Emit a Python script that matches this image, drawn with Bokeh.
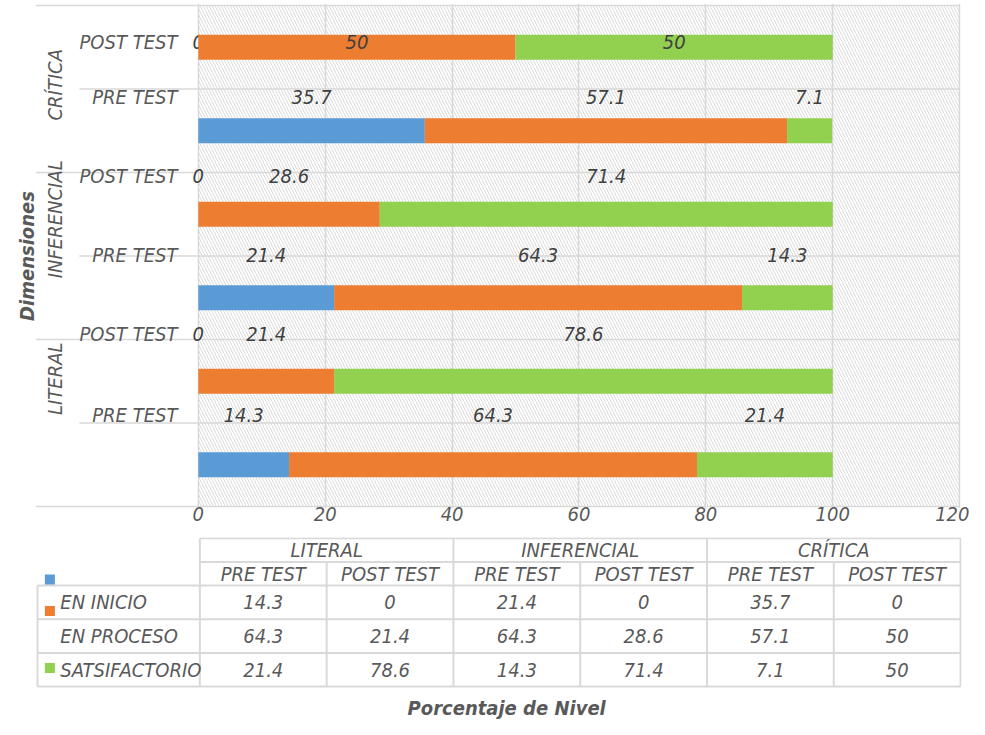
import math
from bokeh.plotting import figure
from bokeh.models import Range1d, FixedTicker, ColumnDataSource
from bokeh.layouts import column
from bokeh.embed import file_html
from bokeh.resources import INLINE
from bokeh.core.properties import value

# ---------------- data ----------------
dimensions = ["LITERAL", "INFERENCIAL", "CRÍTICA"]
tests = ["PRE TEST", "POST TEST"]
series_names = ["EN INICIO", "EN PROCESO", "SATSIFACTORIO"]
# order: LITERAL PRE, LITERAL POST, INFERENCIAL PRE, INFERENCIAL POST, CRÍTICA PRE, CRÍTICA POST
en_inicio = [14.3, 0, 21.4, 0, 35.7, 0]
en_proceso = [64.3, 21.4, 64.3, 28.6, 57.1, 50]
satsifactorio = [21.4, 78.6, 14.3, 71.4, 7.1, 50]
x_ticks = [0, 20, 40, 60, 80, 100, 120]
axis_title_x = "Porcentaje de Nivel"
axis_title_y = "Dimensiones"

# ---------------- style / layout ----------------
colors = ["#5B9BD5", "#ED7D31", "#92D050"]
FONT = "DejaVu Sans Condensed, Liberation Sans Narrow, Liberation Sans, sans-serif"
FS = "20px"
TXT = "#595959"
DLBL = "#404040"
GRID = "#d9d9d9"
BAR_H = 0.3
X_LEFT = -25.67
X_RIGHT = 120.3
INNER_LEFT = -18.76
ROW_LABEL_X = -3.3
GROUP_LABEL_X = -22.6
ROW_LABEL_Y = [1.10, 2.06, 3.01, 3.96, 4.90, 5.56]
GROUP_LABEL_Y = [1.53, 3.44, 5.05]

series = [en_inicio, en_proceso, satsifactorio]
cats = [(d, t) for d in dimensions for t in tests]
n = len(cats)
x_max = x_ticks[-1]

p = figure(width=969, height=535,
           x_range=Range1d(X_LEFT, X_RIGHT), y_range=Range1d(-0.024, n + 0.024),
           min_border_left=35, min_border_right=8, min_border_top=3, min_border_bottom=27,
           output_backend="svg", toolbar_location=None)
p.outline_line_color = None
p.background_fill_color = "white"

# hatched plot area
p.quad(left=[0], right=[x_max], bottom=[0], top=[n], fill_color=None, line_color=None,
       hatch_pattern="\\", hatch_color="#d4d4d4", hatch_scale=6, hatch_weight=1,
       hatch_alpha=0.85)

# grid
p.xgrid.ticker = FixedTicker(ticks=x_ticks)
p.xgrid.grid_line_color = GRID
p.xgrid.grid_line_width = 1.5
p.ygrid.visible = False

# separators (multi-level category axis)
outer = list(range(0, n + 1, 2))
inner = list(range(1, n, 2))
p.segment(x0=[X_LEFT] * len(outer), y0=outer, x1=[x_max] * len(outer), y1=outer,
          line_color=GRID, line_width=1.5)
p.segment(x0=[INNER_LEFT] * len(inner), y0=inner, x1=[x_max] * len(inner), y1=inner,
          line_color=GRID, line_width=1.5)

# stacked bars + data labels
left = [0.0] * n
for s, vals in enumerate(series):
    right = [l + v for l, v in zip(left, vals)]
    src = ColumnDataSource(dict(
        y=[i + 0.5 for i in range(n)], left=left, right=right,
        lx=[(l + r) / 2 for l, r in zip(left, right)], ly=ROW_LABEL_Y,
        txt=[f"{v:g}" for v in vals]))
    p.hbar(y="y", left="left", right="right", height=BAR_H, fill_color=colors[s],
           line_color=None, source=src)
    p.text(x="lx", y="ly", text="txt", source=src, text_align="center", text_baseline="middle",
           text_font=value(FONT), text_font_size=FS, text_font_style="italic", text_color=DLBL)
    left = right

# category labels
p.text(x=[ROW_LABEL_X] * n, y=ROW_LABEL_Y, text=[c[1] for c in cats], text_align="right",
       text_baseline="middle", text_font=value(FONT), text_font_size=FS,
       text_font_style="italic", text_color=TXT)
p.text(x=[GROUP_LABEL_X] * len(dimensions), y=GROUP_LABEL_Y, text=dimensions,
       angle=math.pi / 2, text_align="center", text_baseline="middle",
       text_font=value(FONT), text_font_size=FS, text_font_style="italic", text_color=TXT)

# axes
p.xaxis.ticker = FixedTicker(ticks=x_ticks)
p.xaxis.axis_line_color = None
p.xaxis.major_tick_line_color = None
p.xaxis.minor_tick_line_color = None
p.xaxis.major_label_standoff = -8
p.xaxis.major_label_text_font = FONT
p.xaxis.major_label_text_font_size = FS
p.xaxis.major_label_text_font_style = "italic"
p.xaxis.major_label_text_color = TXT

p.yaxis.ticker = FixedTicker(ticks=[])
p.yaxis.axis_line_color = None
p.yaxis.major_tick_line_color = None
p.yaxis.minor_tick_line_color = None
p.yaxis.axis_label = axis_title_y
p.yaxis.axis_label_standoff = -3
p.yaxis.axis_label_text_font = FONT
p.yaxis.axis_label_text_font_size = FS
p.yaxis.axis_label_text_font_style = "bold italic"
p.yaxis.axis_label_text_color = TXT

# ---------------- data table ----------------
LW = 1.281           # width of label column (in data-column units)
H1 = 0.7             # header row height (in body-row units)
MARKER_X = -LW + 0.098
MARKER_DY = [0.68, 0.74, 0.05]
LABEL_X = -LW + 0.18
TITLE_X = 2.42
TITLE_Y = -3.64
nr = len(series)

t = figure(width=969, height=184,
           x_range=Range1d(-LW - 0.0155, n + 0.0075), y_range=Range1d(-3.976, 2 * H1 + 0.024),
           min_border_left=0, min_border_right=0, min_border_top=2, min_border_bottom=0,
           output_backend="svg", toolbar_location=None)
t.outline_line_color = None
t.axis.visible = False
t.grid.visible = False

# horizontal lines
hy = [2 * H1, H1]
t.segment(x0=[0] * 2, y0=hy, x1=[n] * 2, y1=hy, line_color=GRID, line_width=2)
by = [-r for r in range(nr + 1)]
t.segment(x0=[-LW] * len(by), y0=by, x1=[n] * len(by), y1=by, line_color=GRID, line_width=2)
# vertical lines
gx = list(range(0, n + 1, 2))
t.segment(x0=gx, y0=[-nr] * len(gx), x1=gx, y1=[2 * H1] * len(gx), line_color=GRID, line_width=2)
sx = list(range(1, n, 2))
t.segment(x0=sx, y0=[-nr] * len(sx), x1=sx, y1=[H1] * len(sx), line_color=GRID, line_width=2)
t.segment(x0=[-LW], y0=[-nr], x1=[-LW], y1=[0], line_color=GRID, line_width=2)

tkw = dict(text_baseline="middle", text_font=value(FONT), text_font_size=FS,
           text_font_style="italic", text_color=TXT)
t.text(x=[2 * i + 1 for i in range(len(dimensions))], y=[1.5 * H1] * len(dimensions),
       text=dimensions, text_align="center", **tkw)
t.text(x=[i + 0.5 for i in range(n)], y=[0.5 * H1] * n, text=[c[1] for c in cats],
       text_align="center", **tkw)
for r, vals in enumerate(series):
    t.text(x=[i + 0.5 for i in range(n)], y=[-r - 0.5] * n, text=[f"{v:g}" for v in vals],
           text_align="center", **tkw)
t.text(x=[LABEL_X] * nr, y=[-r - 0.5 for r in range(nr)], text=series_names,
       text_align="left", **tkw)
t.scatter(x=[MARKER_X] * nr, y=[-r - 0.5 + d for r, d in enumerate(MARKER_DY)], marker="square",
          size=10, fill_color=colors, line_color=None)

# x axis title (below the data table)
t.text(x=[TITLE_X], y=[TITLE_Y], text=[axis_title_x], text_align="center",
       text_baseline="middle", text_font=value(FONT), text_font_size=FS,
       text_font_style="bold italic", text_color=TXT)

layout = column(p, t)
open("out.html", "w").write(file_html(layout, INLINE))
